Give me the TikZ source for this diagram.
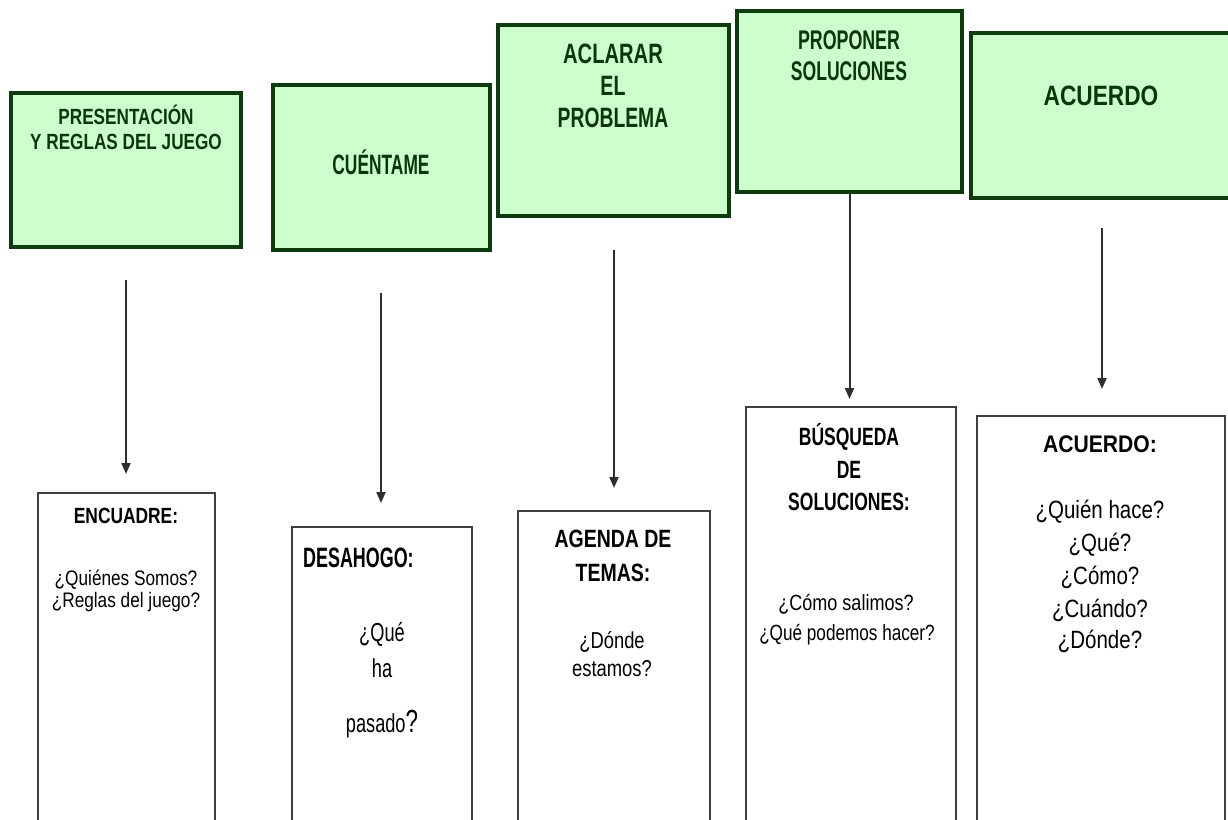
\documentclass[tikz,border=0pt]{standalone}
\usepackage{fontspec}
\setmainfont{Liberation Sans}
\usepackage{graphicx}
\usetikzlibrary{arrows.meta}
\definecolor{boxfill}{HTML}{CCFFCC}
\definecolor{boxline}{HTML}{0E3B0E}
\definecolor{toptext}{HTML}{0A360A}
\definecolor{arrowcol}{HTML}{2E2E2E}
\newcommand\sx[2]{\scalebox{#1}[1]{#2}}
\begin{document}
\begin{tikzpicture}[x=1pt,y=-1pt,
  topbox/.style={draw=boxline, line width=4pt, fill=boxfill, inner sep=0pt, outer sep=0pt, anchor=north west},
  lowbox/.style={draw=black!75, line width=1.5pt, fill=white, inner sep=0pt, outer sep=0pt, anchor=north west},
  tt/.style={anchor=base, inner sep=0pt, text=toptext, font=\bfseries\fontsize{28}{28}\selectfont},
  tts/.style={anchor=base, inner sep=0pt, text=toptext, font=\bfseries\fontsize{22}{22}\selectfont},
  bh/.style={anchor=base, inner sep=0pt, text=black, font=\bfseries\fontsize{25}{25}\selectfont},
  bq/.style={anchor=base, inner sep=0pt, text=black, font=\fontsize{22}{22}\selectfont},
  arr/.style={draw=arrowcol, line width=2pt, -{Triangle[length=11pt,width=9pt]}}
]
\useasboundingbox (0,0) rectangle (1228,819);
\fill[white] (0,0) rectangle (1228,819);
\clip (0,0) rectangle (1228,819);

% top boxes
\node[topbox, minimum width=230pt, minimum height=154pt] (t1) at (11,93) {};
\node[topbox, minimum width=217pt, minimum height=165pt] (t2) at (273,85) {};
\node[topbox, minimum width=231pt, minimum height=191pt] (t3) at (498,25) {};
\node[topbox, minimum width=225pt, minimum height=181pt] (t4) at (737,11) {};
\node[topbox, minimum width=280pt, minimum height=165pt] (t5) at (971,33) {};

\node[tts] (t1a) at (126,124) {\sx{.78}{PRESENTACIÓN}};
\node[tts] (t1b) at (126,149) {\sx{.78}{Y REGLAS DEL JUEGO}};
\node[tt] (t2a) at (381,174) {\sx{.62}{CUÉNTAME}};
\node[tt] (t3a) at (613,63) {\sx{.72}{ACLARAR}};
\node[tt] (t3b) at (613,95) {\sx{.70}{EL}};
\node[tt] (t3c) at (613,127) {\sx{.69}{PROBLEMA}};
\node[tt, font=\bfseries\fontsize{27}{27}\selectfont] (t4a) at (849,49) {\sx{.66}{PROPONER}};
\node[tt, font=\bfseries\fontsize{27}{27}\selectfont] (t4b) at (849,80) {\sx{.65}{SOLUCIONES}};
\node[tt] (t5a) at (1101,105) {\sx{.81}{ACUERDO}};

% bottom boxes
\node[lowbox, minimum width=177pt, minimum height=347pt] (b1) at (38,493) {};
\node[lowbox, minimum width=180pt, minimum height=313pt] (b2) at (292,527) {};
\node[lowbox, minimum width=192pt, minimum height=329pt] (b3) at (518,511) {};
\node[lowbox, minimum width=210pt, minimum height=433pt] (b4) at (746,407) {};
\node[lowbox, minimum width=248pt, minimum height=424pt] (b5) at (977,416) {};

% arrows
\coordinate (a1s) at (126,280); \coordinate (a1e) at (126,474);
\coordinate (a2s) at (381,293); \coordinate (a2e) at (381,503);
\coordinate (a3s) at (614,250); \coordinate (a3e) at (614,488);
\coordinate (a4e) at (849.5,399);
\coordinate (a5s) at (1102,228); \coordinate (a5e) at (1102,389);
\draw[arr] (a1s) -- (a1e);
\draw[arr] (a2s) -- (a2e);
\draw[arr] (a3s) -- (a3e);
\draw[arr] (t4.south) -- (a4e);
\draw[arr] (a5s) -- (a5e);

% bottom texts
\node[bh, font=\bfseries\fontsize{22}{22}\selectfont] (b1a) at (126,523) {\sx{.79}{ENCUADRE:}};
\node[bq, font=\fontsize{21}{21}\selectfont] (b1b) at (126,585) {\sx{.82}{¿Quiénes Somos?}};
\node[bq, font=\fontsize{21}{21}\selectfont] (b1c) at (126,607) {\sx{.82}{¿Reglas del juego?}};

\node[bh, anchor=base west, font=\bfseries\fontsize{28}{28}\selectfont] (b2a) at (303,567) {\sx{.64}{DESAHOGO:}};
\node[bq, font=\fontsize{26}{26}\selectfont] (b2b) at (382,641) {\sx{.7}{¿Qué}};
\node[bq, font=\fontsize{26}{26}\selectfont] (b2c) at (382,677) {\sx{.7}{ha}};
\node[bq, font=\fontsize{26}{26}\selectfont] (b2d) at (382,732) {\sx{.7}{pasado{\fontsize{32}{32}\selectfont ?}}};

\node[bh] (b3a) at (613,547) {\sx{.78}{AGENDA DE}};
\node[bh] (b3b) at (613,581) {\sx{.78}{TEMAS:}};
\node[bq, font=\fontsize{23}{23}\selectfont] (b3c) at (612,648) {\sx{.8}{¿Dónde}};
\node[bq, font=\fontsize{23}{23}\selectfont] (b3d) at (612,676) {\sx{.8}{estamos?}};

\node[bh] (b4a) at (849,445) {\sx{.70}{BÚSQUEDA}};
\node[bh] (b4b) at (849,478) {\sx{.70}{DE}};
\node[bh] (b4c) at (849,510) {\sx{.70}{SOLUCIONES:}};
\node[bq, font=\fontsize{22}{22}\selectfont] (b4d) at (846,610) {\sx{.82}{¿Cómo salimos?}};
\node[bq, font=\fontsize{22}{22}\selectfont] (b4e) at (847,640) {\sx{.78}{¿Qué podemos hacer?}};

\node[bh, font=\bfseries\fontsize{24}{24}\selectfont] (b5a) at (1100,452) {\sx{.88}{ACUERDO:}};
\node[bq, font=\fontsize{25}{25}\selectfont] (b5b) at (1100,518) {\sx{.82}{¿Quién hace?}};
\node[bq, font=\fontsize{25}{25}\selectfont] (b5c) at (1100,551) {\sx{.82}{¿Qué?}};
\node[bq, font=\fontsize{25}{25}\selectfont] (b5d) at (1100,584) {\sx{.82}{¿Cómo?}};
\node[bq, font=\fontsize{25}{25}\selectfont] (b5e) at (1100,617) {\sx{.82}{¿Cuándo?}};
\node[bq, font=\fontsize{25}{25}\selectfont] (b5f) at (1100,648) {\sx{.82}{¿Dónde?}};
\end{tikzpicture}
\end{document}
